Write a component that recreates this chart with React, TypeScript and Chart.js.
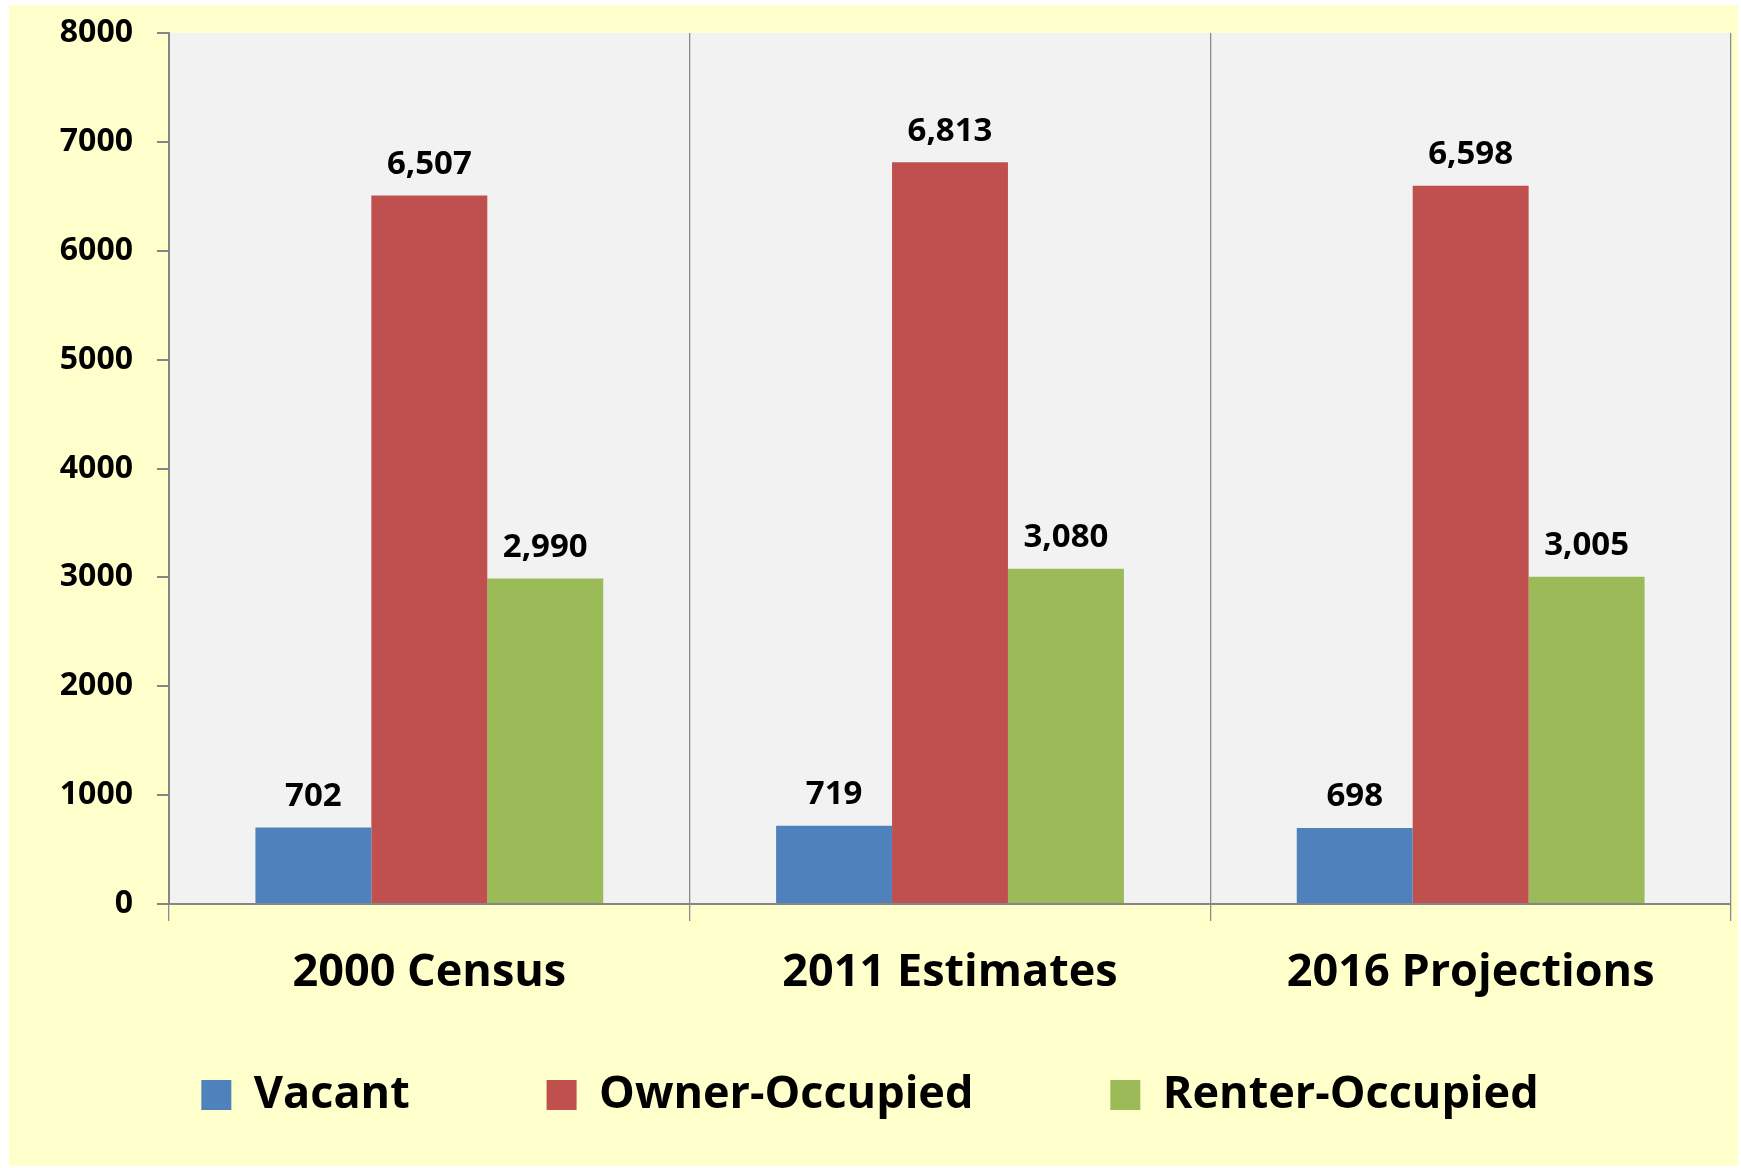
import React, { useEffect, useRef } from "react";
import { Chart, registerables } from "chart.js";

Chart.register(...registerables);

const categories = ["2000 Census", "2011 Estimates", "2016 Projections"];
const seriesNames = ["Vacant", "Owner-Occupied", "Renter-Occupied"];
const vacant = [702, 719, 698];
const ownerOccupied = [6507, 6813, 6598];
const renterOccupied = [2990, 3080, 3005];
const seriesColors = ["#4F81BD", "#C0504D", "#9BBB59"];
const yMin = 0;
const yMax = 8000;
const yStep = 1000;

const FONT = "'Open Sans', 'DejaVu Sans', sans-serif";

const plotBg = {
  id: "plotBg",
  beforeDraw(chart: any) {
    const { ctx, chartArea } = chart;
    ctx.save();
    ctx.fillStyle = "#F2F2F2";
    ctx.fillRect(chartArea.left, chartArea.top, chartArea.right - chartArea.left, chartArea.bottom - chartArea.top);
    ctx.restore();
  },
};

const dataLabels = {
  id: "dataLabels",
  afterDatasetsDraw(chart: any) {
    const { ctx } = chart;
    ctx.save();
    ctx.font = `bold 33px ${FONT}`;
    ctx.fillStyle = "#000000";
    ctx.textAlign = "center";
    ctx.textBaseline = "middle";
    chart.data.datasets.forEach((ds: any, di: number) => {
      const meta = chart.getDatasetMeta(di);
      meta.data.forEach((bar: any, i: number) => {
        const v = ds.data[i] as number;
        ctx.fillText(v.toLocaleString("en-US"), bar.x, bar.y - 31);
      });
    });
    ctx.restore();
  },
};

export default function App() {
  const ref = useRef<HTMLCanvasElement | null>(null);
  useEffect(() => {
    if (!ref.current) return;
    const values = [vacant, ownerOccupied, renterOccupied];
    const chart = new Chart(ref.current, {
      type: "bar",
      data: {
        labels: categories,
        datasets: seriesNames.map((name, i) => ({
          label: name,
          data: values[i],
          backgroundColor: seriesColors[i],
          borderWidth: 0,
          categoryPercentage: 0.668,
          barPercentage: 1.0,
        })),
      },
      options: {
        animation: false,
        responsive: false,
        devicePixelRatio: 1,
        layout: { padding: { top: 28, left: 0, right: 7, bottom: 38.5 } },
        plugins: {
          tooltip: { enabled: false },
          legend: {
            position: "bottom",
            labels: {
              boxWidth: 30,
              boxHeight: 30,
              padding: 20,
              color: "#000000",
              font: { family: FONT, size: 45, weight: "bold" },
              generateLabels: (c: any) =>
                c.data.datasets.map((ds: any, i: number) => ({
                  text: i < c.data.datasets.length - 1 ? ds.label + "          " : ds.label,
                  fillStyle: ds.backgroundColor,
                  strokeStyle: ds.backgroundColor,
                  lineWidth: 0,
                  hidden: false,
                  datasetIndex: i,
                })),
            },
          },
        },
        scales: {
          x: {
            offset: true,
            grid: {
              offset: true,
              display: true,
              drawOnChartArea: true,
              drawTicks: true,
              tickLength: 17,
              color: "#8C8C8C",
              lineWidth: 1.3,
            },
            border: { display: true, color: "#868686", width: 2 },
            ticks: {
              color: "#000000",
              padding: 25,
              font: { family: FONT, size: 45, weight: "bold" },
              maxRotation: 0,
            },
            afterFit: (s: any) => {
              s.height = 148.5;
            },
          },
          y: {
            min: yMin,
            max: yMax,
            grid: {
              drawOnChartArea: false,
              drawTicks: true,
              tickLength: 12,
              color: "#868686",
              lineWidth: 2,
            },
            border: { display: true, color: "#868686", width: 2 },
            ticks: {
              stepSize: yStep,
              color: "#000000",
              padding: 24,
              font: { family: FONT, size: 32, weight: "bold" },
              callback: (v: any) => String(v),
            },
            afterFit: (s: any) => {
              s.width = 160;
              s.paddingTop = 10;
              s.paddingBottom = 10;
            },
          },
        },
      },
      plugins: [plotBg, dataLabels],
    });
    return () => chart.destroy();
  }, []);
  return (
    <div
      style={{
        position: "absolute",
        left: 9,
        top: 5,
        width: 1729,
        height: 1161,
        background: "#FFFFCC",
      }}
    >
      <canvas ref={ref} width={1729} height={1161} style={{ display: "block" }} />
    </div>
  );
}
